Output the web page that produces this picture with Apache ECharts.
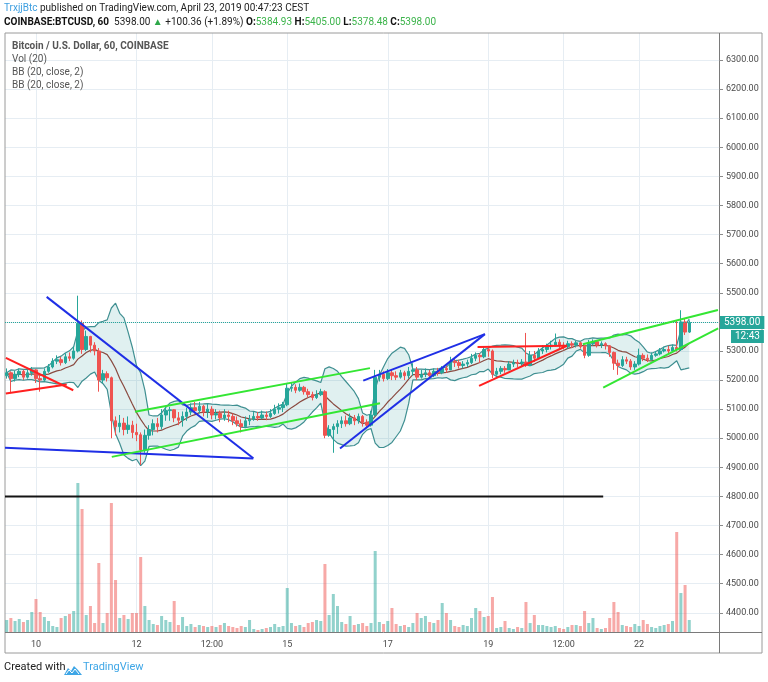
<!DOCTYPE html>
<html>
<head>
<meta charset="utf-8">
<title>BTCUSD 60 - TradingView snapshot</title>
<script src="https://cdn.jsdelivr.net/npm/echarts@6/dist/echarts.min.js"></script>
<style>
  html, body { margin: 0; padding: 0; background: #fff; }
  #chart { width: 768px; height: 682px; }
</style>
</head>
<body>
<div id="chart"></div>
<script>
// time is counted in hours from Apr 9 00:00
const firstHour = 10;
const barHours = 2;
const firstOpen = 5215;

const closes = [
  5225, 5205, 5220, 5230, 5210, 5225, 5235, 5205, 5200, 5230,
  5245, 5265, 5270, 5260, 5280, 5275, 5300, 5395, 5305, 5350,
  5320, 5300, 5200, 5222, 5208, 5060, 5040, 5052, 5030, 5045,
  5020, 5012, 4960, 5010, 5030, 5050, 5040, 5080, 5095, 5098,
  5070, 5062, 5075, 5090, 5105, 5095, 5110, 5090, 5100, 5080,
  5085, 5070, 5080, 5075, 5060, 5050, 5040, 5060, 5065, 5075,
  5070, 5080, 5075, 5085, 5100, 5105, 5115, 5172, 5175, 5165,
  5175, 5160, 5150, 5140, 5150, 5160, 5010, 5030, 5040, 5050,
  5060, 5050, 5070, 5060, 5075, 5055, 5045, 5080, 5210, 5220,
  5205, 5225, 5215, 5210, 5225, 5215, 5230, 5235, 5210, 5220,
  5225, 5215, 5230, 5225, 5240, 5235, 5265, 5260, 5250, 5255,
  5260, 5275, 5285, 5280, 5305, 5300, 5220, 5230, 5240, 5235,
  5255, 5260, 5258, 5262, 5250, 5285, 5275, 5300, 5305, 5315,
  5320, 5330, 5320, 5315, 5325, 5320, 5328, 5315, 5285, 5325,
  5332, 5320, 5325, 5318, 5295, 5258, 5250, 5270, 5265, 5245,
  5255, 5285, 5275, 5270, 5285, 5290, 5300, 5305, 5300, 5312,
  5305, 5400, 5365, 5398
];
const highs = [
  5240, 5230, 5232, 5240, 5236, 5238, 5245, 5238, 5220, 5240,
  5255, 5275, 5285, 5280, 5292, 5295, 5315, 5490, 5405, 5370,
  5352, 5330, 5310, 5235, 5230, 5212, 5075, 5080, 5070, 5075,
  5060, 5050, 5020, 5030, 5045, 5065, 5070, 5100, 5110, 5108,
  5100, 5090, 5092, 5105, 5120, 5125, 5125, 5115, 5120, 5110,
  5100, 5095, 5100, 5095, 5085, 5075, 5065, 5075, 5080, 5090,
  5090, 5095, 5092, 5100, 5115, 5120, 5125, 5190, 5190, 5185,
  5188, 5180, 5170, 5160, 5165, 5170, 5165, 5045, 5050, 5062,
  5075, 5078, 5085, 5080, 5085, 5080, 5065, 5095, 5235, 5235,
  5230, 5238, 5235, 5230, 5235, 5232, 5245, 5258, 5245, 5235,
  5240, 5235, 5240, 5242, 5248, 5250, 5280, 5275, 5270, 5265,
  5270, 5290, 5295, 5292, 5315, 5315, 5305, 5242, 5248, 5248,
  5265, 5270, 5270, 5272, 5362, 5300, 5300, 5310, 5320, 5325,
  5335, 5360, 5340, 5330, 5335, 5333, 5335, 5332, 5320, 5338,
  5340, 5335, 5333, 5330, 5320, 5298, 5270, 5282, 5280, 5272,
  5265, 5308, 5292, 5288, 5295, 5300, 5310, 5315, 5318, 5322,
  5405, 5440, 5410, 5405
];
const lows = [
  5205, 5155, 5195, 5210, 5200, 5205, 5215, 5190, 5160, 5195,
  5225, 5240, 5255, 5250, 5255, 5265, 5270, 5295, 5290, 5300,
  5295, 5285, 5160, 5190, 5195, 5000, 5010, 5020, 5010, 5015,
  5000, 4990, 4908, 4950, 4995, 5010, 5020, 5030, 5060, 5060,
  5055, 5045, 5040, 5060, 5080, 5085, 5085, 5075, 5070, 5065,
  5065, 5055, 5060, 5055, 5045, 5040, 5020, 5035, 5045, 5060,
  5060, 5065, 5062, 5070, 5080, 5085, 5090, 5110, 5160, 5155,
  5160, 5150, 5140, 5130, 5135, 5145, 5000, 5005, 4950, 5015,
  5035, 5040, 5045, 5045, 5050, 5040, 5035, 5040, 5075, 5195,
  5195, 5200, 5200, 5200, 5205, 5200, 5205, 5215, 5200, 5205,
  5210, 5205, 5210, 5215, 5220, 5225, 5235, 5245, 5240, 5240,
  5245, 5255, 5265, 5260, 5275, 5280, 5207, 5215, 5220, 5225,
  5235, 5245, 5245, 5248, 5245, 5248, 5262, 5272, 5290, 5295,
  5305, 5315, 5310, 5305, 5308, 5310, 5312, 5308, 5275, 5280,
  5318, 5312, 5310, 5305, 5280, 5235, 5218, 5245, 5255, 5235,
  5235, 5250, 5265, 5262, 5268, 5280, 5285, 5295, 5292, 5298,
  5298, 5300, 5355, 5362
];
const volumes = [
  360, 420, 330, 390, 300, 360, 600, 990, 600, 450,
  330, 180, 150, 420, 480, 540, 630, 4470, 3690, 510,
  780, 270, 2070, 270, 570, 3870, 1560, 420, 510, 390,
  570, 570, 2250, 780, 360, 240, 210, 480, 360, 300,
  930, 210, 450, 180, 240, 150, 210, 180, 150, 180,
  150, 210, 270, 180, 150, 120, 180, 150, 360, 90,
  60, 90, 120, 150, 240, 150, 180, 1320, 270, 180,
  210, 150, 270, 300, 360, 330, 2040, 510, 1140, 780,
  300, 240, 480, 210, 240, 270, 180, 270, 2430, 300,
  240, 330, 720, 240, 180, 210, 150, 270, 570, 420,
  480, 300, 270, 360, 870, 570, 360, 180, 150, 210,
  180, 420, 720, 630, 450, 480, 1050, 120, 150, 330,
  120, 90, 150, 120, 900, 270, 510, 210, 210, 180,
  150, 180, 120, 90, 150, 210, 210, 180, 630, 270,
  420, 120, 90, 120, 420, 900, 600, 210, 180, 150,
  240, 180, 360, 240, 150, 120, 180, 210, 240, 330,
  3000, 1170, 1410, 360
];

// time axis labels
const timeTicks = [24, 72, 108, 144, 192, 240, 276, 312];
const timeLabels = ['10', '12', '12:00', '15', '17', '19', '12:00', '22'];
const priceTicks = [4400, 4500, 4600, 4700, 4800, 4900, 5000, 5100, 5200, 5300,
  5400, 5500, 5600, 5700, 5800, 5900, 6000, 6100, 6200, 6300];

// hand drawn trend lines, [hour, price] end points
const blueLines = [
  [[29.1, 5486], [127.8, 4931]],
  [[9.2, 4967], [127.8, 4930]],
  [[180.3, 5198], [238.4, 5358]],
  [[169.2, 4965], [238.4, 5358]]
];
const redLines = [
  [[9.6, 5276], [41.8, 5165]],
  [[9.6, 5154], [38.7, 5185]],
  [[234.9, 5314], [277.6, 5318]],
  [[235.6, 5180], [277.6, 5318]]
];
const greenLines = [
  [[71.3, 5091], [183.5, 5241]],
  [[60.2, 4936], [188.3, 5120]],
  [[285.2, 5323], [349.7, 5441]],
  [[294.9, 5174], [349.8, 5378]]
];
const blackLines = [
  [[9.2, 4800], [294.9, 4800]]
];

const lastPrice = 5398.00;
const countdown = '12:43';

const UP = '#26a69a';
const DOWN = '#ef5350';
const FONT = 'Roboto, "Noto Sans", sans-serif';

const hours = closes.map((c, i) => firstHour + i * barHours);
// each bar opens where the previous one closed
const opens = closes.map((c, i) => (i === 0 ? firstOpen : closes[i - 1]));

// Bollinger bands, 20 hourly closes = 10 two-hour bars
function bollinger(values, period, mult) {
  const mid = [], up = [], lo = [];
  values.forEach((v, i) => {
    const win = values.slice(Math.max(0, i - period + 1), i + 1);
    const m = win.reduce((a, b) => a + b, 0) / win.length;
    const sd = Math.sqrt(win.reduce((a, b) => a + (b - m) * (b - m), 0) / win.length);
    mid.push(m);
    up.push(m + mult * sd);
    lo.push(m - mult * sd);
  });
  return { mid, up, lo };
}
const bb = bollinger(closes, 10, 2);

const candleData = closes.map((c, i) => [hours[i], opens[i], c, lows[i], highs[i]]);
const volumeData = volumes.map((v, i) => ({
  value: [hours[i], v],
  itemStyle: { color: closes[i] >= opens[i] ? 'rgba(38,166,154,0.5)' : 'rgba(239,83,80,0.5)' }
}));

function trendSeries(lines, color) {
  return lines.map(pts => ({
    type: 'line',
    data: pts,
    showSymbol: false,
    silent: true,
    z: 5,
    lineStyle: { color: color, width: 2 }
  }));
}

function bbLine(values, color) {
  return {
    type: 'line',
    data: values.map((v, i) => [hours[i], v]),
    showSymbol: false,
    silent: true,
    lineStyle: { color: color, width: 1.2 }
  };
}

const chart = echarts.init(document.getElementById('chart'));

const option = {
  animation: false,
  backgroundColor: '#fff',
  grid: { left: 5, right: 49, top: 33, bottom: 50 },
  xAxis: {
    type: 'value',
    min: 9.2,
    max: 350.2,
    axisLine: { show: false },
    axisTick: { show: false, customValues: timeTicks },
    axisLabel: {
      customValues: timeTicks,
      formatter: v => {
        const k = timeTicks.indexOf(v);
        return k < 0 ? '' : timeLabels[k];
      },
      color: '#4a4a4a',
      fontSize: 9,
      fontFamily: FONT,
      margin: 8
    },
    splitLine: { show: true, lineStyle: { color: '#e6edf3', width: 1 } }
  },
  yAxis: [
    {
      type: 'value',
      position: 'right',
      min: 4334,
      max: 6393,
      axisLine: { show: false },
      axisTick: { show: true, customValues: priceTicks, length: 4, lineStyle: { color: '#8a8a8a' } },
      axisLabel: {
        customValues: priceTicks,
        formatter: v => v.toFixed(2),
        color: '#4a4a4a',
        fontSize: 9,
        fontFamily: FONT,
        margin: 7
      },
      splitLine: { show: true, lineStyle: { color: '#e6edf3', width: 1 } }
    },
    {
      type: 'value',
      min: 0,
      max: 17970,
      show: false
    }
  ],
  series: [
    {
      name: 'Vol',
      type: 'bar',
      yAxisIndex: 1,
      barWidth: 3,
      silent: true,
      data: volumeData
    },
    {
      // shaded area between the upper and lower band
      name: 'bbFill',
      type: 'custom',
      silent: true,
      clip: true,
      data: hours.map((h, i) => [h, bb.up[i], bb.lo[i]]),
      encode: { x: 0, y: [1, 2] },
      renderItem: (params, api) => {
        if (params.dataIndex !== 0) return null;
        const top = hours.map((h, i) => api.coord([h, bb.up[i]]));
        const bottom = hours.map((h, i) => api.coord([h, bb.lo[i]])).reverse();
        return {
          type: 'polygon',
          shape: { points: top.concat(bottom) },
          style: { fill: 'rgba(38,150,150,0.14)' }
        };
      }
    },
    bbLine(bb.up, '#3f8f91'),
    bbLine(bb.lo, '#3f8f91'),
    bbLine(bb.mid, '#8a4a40'),
    {
      name: 'BTCUSD',
      type: 'candlestick',
      barWidth: 3,
      z: 4,
      data: candleData,
      itemStyle: { color: UP, color0: DOWN, borderColor: UP, borderColor0: DOWN, borderWidth: 1 },
      markLine: {
        silent: true,
        symbol: ['none', 'none'],
        label: { show: false },
        lineStyle: { color: UP, type: 'dotted', width: 1 },
        data: [{ yAxis: lastPrice }]
      }
    },
    ...trendSeries(blueLines, '#1f2fe6'),
    ...trendSeries(redLines, '#ff2020'),
    ...trendSeries(greenLines, '#33e633'),
    ...trendSeries(blackLines, '#141414')
  ]
};

chart.setOption(option);

// snapshot frame, header and price tags
const lastY = chart.convertToPixel({ yAxisIndex: 0 }, lastPrice);
chart.setOption({
  graphic: [
    { type: 'rect', silent: true, shape: { x: 5, y: 33, width: 757, height: 620 },
      style: { fill: 'none', stroke: '#9a9a9a', lineWidth: 1 } },
    { type: 'line', silent: true, shape: { x1: 5, y1: 632.5, x2: 762, y2: 632.5 },
      style: { stroke: '#7a7a7a', lineWidth: 1 } },
    { type: 'line', silent: true, shape: { x1: 719.5, y1: 33, x2: 719.5, y2: 653 },
      style: { stroke: '#7a7a7a', lineWidth: 1 } },
    {
      type: 'text', left: 4, top: 3, silent: true,
      style: {
        text: '{u|TrxjjBtc}{t| published on TradingView.com, April 23, 2019 00:47:23 CEST}',
        rich: {
          u: { fill: '#3e9fe0', fontSize: 10, fontFamily: FONT },
          t: { fill: '#222', fontSize: 10, fontFamily: FONT }
        }
      }
    },
    {
      type: 'text', left: 4, top: 17, silent: true,
      style: {
        text: '{b|COINBASE:BTCUSD, 60}{t|  5398.00 }{g|▲}{t| +100.36 (+1.89%) }{b|O:}{v|5384.93}{b| H:}{v|5405.00}{b| L:}{v|5378.48}{b| C:}{v|5398.00}',
        rich: {
          b: { fill: '#111', fontSize: 10, fontWeight: 'bold', fontFamily: FONT },
          t: { fill: '#222', fontSize: 10, fontFamily: FONT },
          g: { fill: '#2ea84a', fontSize: 10, fontFamily: FONT },
          v: { fill: '#3cb44b', fontSize: 10, fontFamily: FONT }
        }
      }
    },
    { type: 'text', left: 12, top: 41, silent: true,
      style: { text: 'Bitcoin / U.S. Dollar, 60, COINBASE', fill: '#555', fontSize: 10, fontWeight: 'bold', fontFamily: FONT } },
    { type: 'text', left: 12, top: 54, silent: true,
      style: { text: 'Vol (20)', fill: '#555', fontSize: 10, fontFamily: FONT } },
    { type: 'text', left: 12, top: 67, silent: true,
      style: { text: 'BB (20, close, 2)', fill: '#555', fontSize: 10, fontFamily: FONT } },
    { type: 'text', left: 12, top: 80, silent: true,
      style: { text: 'BB (20, close, 2)', fill: '#555', fontSize: 10, fontFamily: FONT } },
    { type: 'text', silent: true, z: 10,
      style: { x: 720, y: lastY, text: lastPrice.toFixed(2), verticalAlign: 'middle',
        fill: '#fff', backgroundColor: UP, padding: [2, 4, 1, 4], fontSize: 10, fontFamily: FONT } },
    { type: 'text', silent: true, z: 10,
      style: { x: 731, y: lastY + 14, text: countdown, verticalAlign: 'middle',
        fill: '#fff', backgroundColor: UP, padding: [2, 4, 1, 4], fontSize: 10, fontFamily: FONT } },
    { type: 'text', left: 4, top: 662, silent: true,
      style: { text: 'Created with', fill: '#222', fontSize: 11, fontFamily: FONT } },
    { type: 'polygon', silent: true,
      shape: { points: [[64, 675], [68, 668], [71, 671], [74, 666], [78, 670], [82, 675]] },
      style: { fill: '#3ea6e6' } },
    { type: 'polyline', silent: true,
      shape: { points: [[66, 674], [69, 670], [72, 673], [75, 669], [79, 674]] },
      style: { stroke: '#fff', lineWidth: 1, fill: 'none' } },
    { type: 'text', left: 83, top: 662, silent: true,
      style: { text: 'TradingView', fill: '#3ea6e6', fontSize: 11, fontFamily: FONT } }
  ]
});

window.addEventListener('resize', () => chart.resize());
</script>
</body>
</html>
